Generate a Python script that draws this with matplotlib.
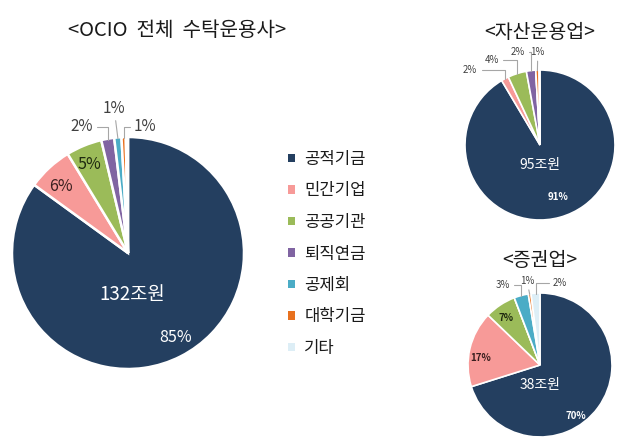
import matplotlib
matplotlib.use("Agg")
import matplotlib.pyplot as plt
import numpy as np

plt.rcParams['font.family'] = ['Noto Sans CJK KR', 'DejaVu Sans']

categories = ['공적기금', '민간기업', '공공기관', '퇴직연금', '공제회', '대학기금', '기타']
colors = ['#243F60', '#F79A98', '#9BBB59', '#8064A2', '#4BACC6', '#E8711F', '#DDEEF6']

total_values = [85, 6.3, 5, 1.8, 1.0, 0.6, 0.3]
total_labels = ['85%', '6%', '5%', '2%', '1%', '1%', '']
total_amount = '132조원'

asset_values = [91, 1.6, 4, 2, 0, 0.7, 0.2]
asset_labels = ['91%', '2%', '4%', '2%', '', '1%', '']
asset_amount = '95조원'

sec_values = [70, 17, 7, 0, 3.2, 0.6, 2.0]
sec_labels = ['70%', '17%', '7%', '', '3%', '1%', '2%']
sec_amount = '38조원'

W, H = 630, 444
fig = plt.figure(figsize=(W / 100, H / 100), dpi=100)


def make_ax(cx, cy, r):
    ax = fig.add_axes([(cx - r) / W, (H - cy - r) / H, 2 * r / W, 2 * r / H])
    return ax


def draw_pie(ax, values, lw):
    wedges, _ = ax.pie(values, colors=colors, startangle=90, counterclock=False,
                       radius=1, wedgeprops=dict(edgecolor='white', linewidth=lw))
    ax.set_xlim(-1, 1)
    ax.set_ylim(-1, 1)
    ax.set_aspect('equal')
    ax.axis('off')
    return wedges


def mid(w):
    return np.deg2rad((w.theta1 + w.theta2) / 2)


def inside(ax, w, txt, pos, size, color, weight='normal'):
    ax.text(pos[0], pos[1], txt, ha='center', va='center', fontsize=size,
            color=color, fontweight=weight)


def outside(ax, w, txt, pos, size, style, ha='center'):
    a = mid(w)
    pt = (0.99 * np.cos(a), 0.99 * np.sin(a))
    if style == 'straight':
        cs = 'arc3'
    else:
        cs = 'angle,angleA=0,angleB=90,rad=0'
    ax.annotate(txt, xy=pt, xytext=pos, ha=ha, va='center', fontsize=size,
                color='#404040', annotation_clip=False,
                arrowprops=dict(arrowstyle='-', color='#A6A6A6', lw=0.8,
                                connectionstyle=cs, shrinkA=1, shrinkB=0))


# ---- main pie ----
ax1 = make_ax(128, 253, 116)
w1 = draw_pie(ax1, total_values, 1.8)
inside(ax1, w1[0], total_amount, (0.04, -0.36), 13.5, 'white')
inside(ax1, w1[0], total_labels[0], (0.41, -0.73), 11.5, 'white')
inside(ax1, w1[1], total_labels[1], (-0.58, 0.57), 11.5, '#3A1F1F')
inside(ax1, w1[2], total_labels[2], (-0.33, 0.76), 11.5, '#1F2A10')
outside(ax1, w1[3], total_labels[3], (-0.40, 1.09), 11, 'angle')
outside(ax1, w1[4], total_labels[4], (-0.12, 1.25), 11, 'straight')
outside(ax1, w1[5], total_labels[5], (0.15, 1.09), 11, 'angle')
fig.text(177 / W, 1 - 30 / H, '<OCIO  전체  수탁운용사>', ha='center', va='center',
         fontsize=14.5, color='#1A1A1A')

# ---- asset management ----
ax2 = make_ax(540, 145, 75)
w2 = draw_pie(ax2, asset_values, 1.2)
inside(ax2, w2[0], asset_amount, (0.0, -0.27), 10, 'white')
inside(ax2, w2[0], asset_labels[0], (0.24, -0.69), 7, 'white', 'bold')
outside(ax2, w2[1], asset_labels[1], (-0.93, 1.0), 7, 'angle')
outside(ax2, w2[2], asset_labels[2], (-0.64, 1.13), 7, 'angle')
outside(ax2, w2[3], asset_labels[3], (-0.30, 1.24), 7, 'angle')
outside(ax2, w2[5], asset_labels[5], (-0.03, 1.24), 7, 'straight')
fig.text(540 / W, 1 - 32 / H, '<자산운용업>', ha='center', va='center',
         fontsize=14, color='#1A1A1A')

# ---- securities ----
ax3 = make_ax(540, 365, 72)
w3 = draw_pie(ax3, sec_values, 1.2)
inside(ax3, w3[0], sec_amount, (0.0, -0.28), 10, 'white')
inside(ax3, w3[0], sec_labels[0], (0.5, -0.71), 7, 'white', 'bold')
inside(ax3, w3[1], sec_labels[1], (-0.83, 0.10), 7, '#3A1F1F', 'bold')
inside(ax3, w3[2], sec_labels[2], (-0.47, 0.65), 7, '#1F2A10', 'bold')
outside(ax3, w3[4], sec_labels[4], (-0.52, 1.11), 7, 'angle')
outside(ax3, w3[5], sec_labels[5], (-0.18, 1.17), 7, 'straight')
outside(ax3, w3[6], sec_labels[6], (0.28, 1.14), 7, 'angle')
fig.text(540 / W, 1 - 260 / H, '<증권업>', ha='center', va='center',
         fontsize=14, color='#1A1A1A')

# ---- legend ----
leg = fig.legend(w1, categories, loc='upper left', bbox_to_anchor=(288 / W, 1 - 151 / H),
                 frameon=False, fontsize=12, handlelength=0.42, handleheight=0.42,
                 handletextpad=0.55, labelspacing=0.87, borderpad=0, borderaxespad=0)
for p in leg.get_patches():
    p.set_edgecolor('none')
for t in leg.get_texts():
    t.set_color('#1A1A1A')

fig.savefig('out.png', dpi=100)
